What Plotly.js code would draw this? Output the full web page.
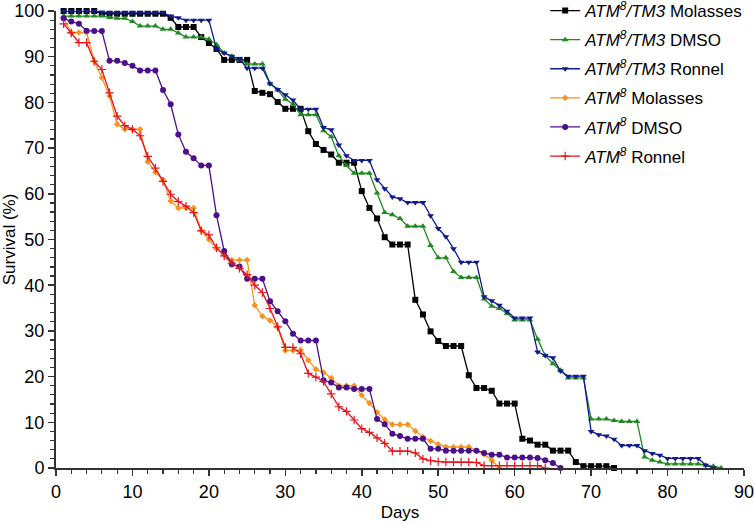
<!DOCTYPE html>
<html>
<head>
<meta charset="utf-8">
<script src="https://cdn.plot.ly/plotly-3.0.1.min.js"></script>
<style>html,body{margin:0;padding:0;background:#fff;}</style>
</head>
<body>
<div id="chart" style="width:754px;height:524px;"></div>
<script>
const days = [1,2,3,4,5,6,7,8,9,10,11,12,13,14,15,16,17,18,19,20,21,22,23,24,25,26,27,28,29,30,31,32,33,34,35,36,37,38,39,40,41,42,43,44,45,46,47,48,49,50,51,52,53,54,55,56,57,58,59,60,61,62,63,64,65,66,67,68,69,70,71,72,73,74,75,76,77,78,79,80,81,82,83,84,85,86,87];

const seriesNames = [
  "<i>ATM<sup>8</sup>/TM3</i> Molasses",
  "<i>ATM<sup>8</sup>/TM3</i> DMSO",
  "<i>ATM<sup>8</sup>/TM3</i> Ronnel",
  "<i>ATM<sup>8</sup></i> Molasses",
  "<i>ATM<sup>8</sup></i> DMSO",
  "<i>ATM<sup>8</sup></i> Ronnel"
];

const tm3Molasses = [100,100,100,100,100,99.4,99.4,99.4,99.4,99.4,
  99.4,99.4,99.4,99.4,98.5,96.5,96.5,96.5,94.3,93.0,
  91.7,89.3,89.3,89.3,89.3,82.5,82.1,81.8,80.1,78.6,
  78.6,78.6,73.7,70.9,69.6,68.6,66.8,66.8,66.8,60.6,
  56.9,54.6,50.5,48.9,48.9,48.9,36.8,33.6,29.9,27.8,
  26.7,26.7,26.7,20.3,17.5,17.5,16.9,14.1,14.1,14.1,
  6.4,6.0,5.1,5.1,3.8,3.8,3.8,1.3,0.4,0.4,
  0.4,0.4,0];

const tm3Dmso = [98.9,98.9,98.9,98.9,98.9,98.9,98.6,98.4,98.4,97.7,
  96.7,96.7,96.7,96.0,96.0,95.2,94.3,94.3,94.3,93.8,
  92.6,90.8,90.1,89.3,88.4,88.4,88.4,84.1,82.7,80.7,
  79.6,77.3,77.3,77.3,73.8,72.5,68.3,66.2,64.5,64.5,
  64.5,60.2,55.9,55.4,54.6,52.9,52.9,52.9,48.7,46.0,
  46.0,43.0,41.7,41.7,41.7,37.0,35.4,34.9,33.8,32.4,
  32.4,32.4,28.2,24.6,22.8,21.4,19.7,19.7,19.7,10.7,
  10.7,10.7,10.4,10.2,10.2,10.2,2.4,1.7,1.3,0.9,
  0.9,0.9,0.9,0.9,0.6,0.4,0];

const tm3Ronnel = [100,100,100,100,100,99.7,99.6,99.6,99.6,99.6,
  99.6,99.6,99.6,99.6,98.9,98.5,98.0,98.0,98.0,98.0,
  91.7,90.8,90.1,89.5,87.5,87.5,87.5,84.1,82.8,81.7,
  80.5,78.5,78.5,78.5,74.5,74.0,70.7,68.3,67.3,67.3,
  67.3,63.1,61.1,59.3,58.9,58.1,58.1,58.1,55.2,52.4,
  50.6,48.0,45.0,45.0,45.0,37.5,36.6,35.6,34.3,32.8,
  32.8,32.8,25.4,24.6,24.1,21.2,20.1,20.1,20.1,8.0,
  7.3,7.0,6.3,4.9,4.9,4.9,3.8,3.2,2.8,2.1,
  2.1,2.1,2.1,2.1,0.6,0];

const atmMolasses = [98.4,95.3,95.3,95.3,89.0,85.4,81.4,75.2,74.1,74.1,
  74.1,67.0,64.7,63.0,58.4,56.9,56.9,56.9,52.0,50.0,
  48.0,46.7,45.5,45.5,45.5,35.6,33.2,32.3,30.8,25.7,
  25.7,25.8,23.6,21.6,20.9,19.7,18.0,18.0,18.0,15.9,
  14.2,12.2,10.6,9.5,9.5,9.5,8.1,6.8,5.9,5.2,
  4.6,4.6,4.6,4.6,3.8,3.0,1.7,0];

const atmDmso = [98.4,97.7,97.2,95.7,95.6,95.6,89.1,89.1,88.6,88.0,
  87.0,87.0,87.0,82.7,79.6,73.0,69.2,67.8,66.2,66.2,
  55.3,47.5,44.6,44.1,41.4,41.4,41.4,36.5,34.3,32.1,
  29.4,27.9,27.9,27.9,19.2,18.7,17.6,17.6,17.3,17.3,
  17.3,10.7,9.6,7.5,7.0,6.4,6.4,6.4,4.2,4.2,
  3.8,3.8,3.8,3.8,3.8,3.3,2.9,2.9,2.3,2.3,
  2.3,2.3,2.2,1.7,1.1,0];

const atmRonnel = [97.2,95.2,93.1,93.1,89.0,87.2,82.1,77.0,74.9,74.1,
  72.7,68.2,65.6,62.7,59.9,58.3,57.3,55.9,51.9,51.0,
  48.2,46.4,44.8,43.7,42.3,40.0,38.4,34.9,30.9,26.4,
  26.4,25.0,20.7,19.9,18.9,16.2,13.4,12.4,10.5,8.6,
  7.8,6.6,5.4,3.7,3.7,3.7,3.3,2.0,1.6,1.4,
  1.3,1.3,1.3,1.3,1.2,0.5,0.5,0.5,0.5,0.5,
  0.5,0.5,0.5,0];

const xTickLabels = ["0","10","20","30","40","50","60","70","80","90"];
const yTickLabels = ["0","10","20","30","40","50","60","70","80","90","100"];

const allSeries = [tm3Molasses, tm3Dmso, tm3Ronnel, atmMolasses, atmDmso, atmRonnel];
const colors = ["#000000", "#1f8a1f", "#111a8c", "#f7931e", "#4b0f8c", "#e8131b"];
const symbols = ["square", "triangle-up", "triangle-down", "diamond", "circle", "cross-thin-open"];
const sizes = [6, 6, 6, 5, 6, 6];

const traces = allSeries.map((vals, i) => ({
  type: "scatter",
  mode: "lines+markers",
  name: seriesNames[i],
  legendgroup: "g" + i,
  x: days.slice(0, vals.length),
  y: vals,
  cliponaxis: false,
  line: {color: colors[i], width: 1.3},
  marker: {
    symbol: symbols[i],
    size: sizes[i],
    color: colors[i],
    line: {color: colors[i], width: symbols[i] === "cross-thin-open" ? 1.2 : 0}
  }
}));

const fam = "Liberation Sans, Arial, sans-serif";
const tickFont = {family: fam, size: 18, color: "#000"};

const layout = {
  width: 754,
  height: 524,
  margin: {l: 56, r: 10, t: 11, b: 56, autoexpand: false},
  paper_bgcolor: "#fff",
  plot_bgcolor: "#fff",
  font: {family: fam, size: 17, color: "#000"},
  showlegend: true,
  legend: {
    x: 0.711, xanchor: "left",
    y: 1.0394, yanchor: "top",
    bgcolor: "rgba(0,0,0,0)",
    font: {family: fam, size: 17, color: "#000"},
    traceorder: "grouped",
    tracegroupgap: 4,
    itemwidth: 30
  },
  xaxis: {
    range: [0, 90],
    tickvals: xTickLabels.map(Number),
    ticktext: xTickLabels,
    ticklabeloverflow: "allow",
    showgrid: false,
    zeroline: false,
    showline: true,
    linecolor: "#333",
    linewidth: 2,
    ticks: "outside",
    ticklen: 6,
    tickwidth: 1.5,
    tickcolor: "#333",
    minor: {dtick: 2, ticks: "outside", ticklen: 4, tickwidth: 1.2, tickcolor: "#333", showgrid: false},
    tickfont: tickFont,
    title: {text: "Days", font: {family: fam, size: 17, color: "#000"}, standoff: 6}
  },
  yaxis: {
    range: [0, 100],
    tickvals: yTickLabels.map(Number),
    ticktext: yTickLabels,
    ticklabeloverflow: "allow",
    showgrid: false,
    zeroline: false,
    showline: true,
    linecolor: "#333",
    linewidth: 2,
    ticks: "outside",
    ticklen: 6,
    tickwidth: 1.5,
    tickcolor: "#333",
    minor: {dtick: 2, ticks: "outside", ticklen: 4, tickwidth: 1.2, tickcolor: "#333", showgrid: false},
    tickfont: tickFont,
    title: {text: "Survival (%)", font: {family: fam, size: 17, color: "#000"}, standoff: 2}
  }
};

Plotly.newPlot("chart", traces, layout, {displayModeBar: false, staticPlot: true});
</script>
</body>
</html>
